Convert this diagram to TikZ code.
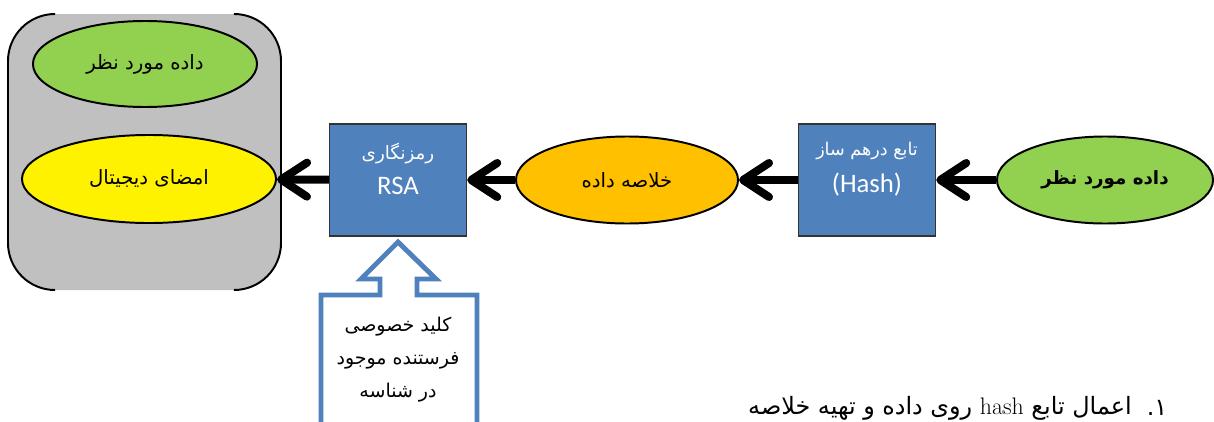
\documentclass[tikz,border=0pt]{standalone}
\usepackage{fontspec}
\usetikzlibrary{shapes.geometric,arrows.meta}
\TeXXeTstate=1
\newfontfamily\fafont[Script=Arabic]{DejaVu Sans}
\newfontfamily\latfont{Carlito}
\definecolor{boxblue}{RGB}{79,129,189}
\definecolor{leafgreen}{RGB}{146,208,80}
\definecolor{digestorange}{RGB}{255,192,0}
\definecolor{panelgray}{RGB}{192,192,192}
\newcommand{\fa}[1]{{\fafont\beginR #1\endR}}

\begin{document}
\begin{tikzpicture}[x=0.025cm, y=-0.025cm,
    oval/.style={ellipse, draw, line width=1.4pt, inner sep=0pt, font=\fontsize{14}{16}\selectfont},
    procbox/.style={rectangle, draw=black!80, line width=1pt, fill=boxblue, minimum width=3.425cm, minimum height=2.8cm},
    boxtext/.style={text=white, align=center, inner sep=0pt},
    flow/.style={line width=5.7pt, -{Straight Barb[length=6.5mm, width=8.5mm, round]}}]
    \useasboundingbox (0,0) rectangle (1214,421);

    % panel holding the signed result
    \fill[panelgray, rounded corners=1.175cm] (8,14) rectangle (281,290);
    \draw[line width=1.4pt, rounded corners=1.175cm] (55,14) -- (8,14) -- (8,290) -- (55,290);
    \draw[line width=1.4pt, rounded corners=1.175cm] (234,14) -- (281,14) -- (281,290) -- (234,290);

    % Nodes
    \node[oval, fill=leafgreen, minimum width=5.6cm, minimum height=2.15cm] at (145, 64) (kept) {\fa{داده مورد نظر}};
    \node[oval, fill=yellow, minimum width=6.35cm, minimum height=2.2cm] at (149, 179) (sign) {\fa{امضای دیجیتال}};
    \node[procbox] at (398, 180) (rsa) {};
    \node[boxtext] at (398, 169) (rsatxt) {\fontsize{13}{15}\selectfont\fa{رمزنگاری}\\[8pt]\latfont\fontsize{19}{20}\selectfont RSA};
    \node[oval, fill=digestorange, minimum width=5.55cm, minimum height=2.175cm] at (627, 180) (digest) {\fa{خلاصه داده}};
    \node[procbox] at (867, 180) (hash) {};
    \node[boxtext] at (867, 169) (hashtxt) {\fontsize{12.5}{15}\selectfont\fa{تابع درهم ساز}\\[8pt]\latfont\fontsize{19}{20}\selectfont (Hash)};
    \node[oval, fill=leafgreen, minimum width=5.4cm, minimum height=2.175cm, font=\fontsize{13}{15}\selectfont\bfseries] at (1105, 180) (data) {\fa{داده مورد نظر}};

    \draw[flow] (data) -- (hash);
    \draw[flow] (hash) -- (digest);
    \draw[flow] (digest) -- (rsa);
    \draw[flow] (rsa) -- (sign);

    % key callout pointing up to the cipher box
    \draw[boxblue, line width=3.5pt, fill=white] (380,295) -- (321,295) -- (321,440) -- (477,440) -- (477,295)
        -- (417,295) -- (417,279) -- (436,279) -- (398,242) -- (361,279) -- (380,279) -- cycle;
    \node[align=center, inner sep=0pt, font=\fontsize{13.5}{23.5}\selectfont] at (398, 360) (key) {\fa{کلید خصوصی}\\\fa{فرستنده موجود}\\\fa{در شناسه}};

    % caption line
    \node[inner sep=0pt, font=\fontsize{17}{19}\selectfont] at (940, 408) (step) {\fa{اعمال تابع \beginL{\rmfamily\fontsize{17}{19}\selectfont hash}\endL{} روی داده و تهیه خلاصه}};
    \node[inner sep=0pt, font=\fontsize{17}{19}\selectfont] at (1157, 408) (num) {\fa{۱.}};
  \end{tikzpicture}
\end{document}
